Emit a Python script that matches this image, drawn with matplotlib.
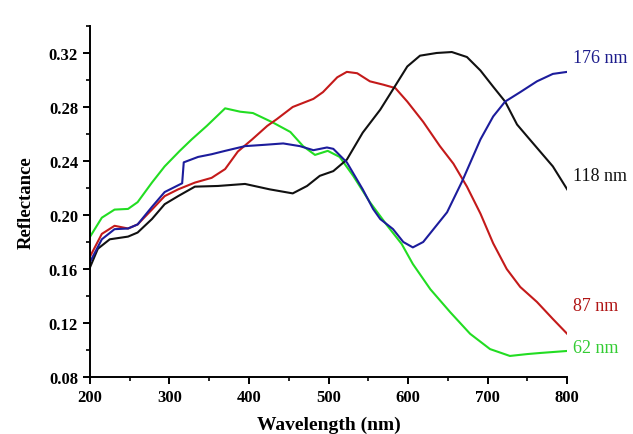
import matplotlib
matplotlib.use('Agg')
import matplotlib.pyplot as plt
from matplotlib.ticker import MultipleLocator

# Reflectance curves
wl_118 = [200, 210, 225, 248, 260, 278, 294, 311, 332, 361, 395, 426, 455, 473, 489, 506, 523,
          543, 565, 581, 599, 615, 636, 655, 674, 691, 707, 722, 737, 750, 766, 782, 800]
refl_118 = [0.161, 0.175, 0.182, 0.184, 0.187, 0.197, 0.208, 0.214, 0.221, 0.2215, 0.223, 0.219,
            0.216, 0.2215, 0.229, 0.2325, 0.241, 0.261, 0.278, 0.293, 0.310, 0.318, 0.320, 0.3207,
            0.317, 0.307, 0.295, 0.284, 0.267, 0.258, 0.247, 0.236, 0.219]

wl_87 = [200, 215, 231, 248, 260, 278, 294, 311, 332, 353, 370, 386, 404, 423, 435, 455, 481, 493,
         511, 523, 536, 552, 569, 584, 599, 619, 640, 657, 674, 691, 707, 724, 741, 762, 782, 800]
refl_87 = [0.169, 0.186, 0.192, 0.190, 0.193, 0.204, 0.214, 0.219, 0.224, 0.2275, 0.234, 0.247,
           0.256, 0.266, 0.271, 0.280, 0.286, 0.291, 0.302, 0.306, 0.305, 0.299, 0.2965, 0.294,
           0.284, 0.269, 0.251, 0.238, 0.221, 0.201, 0.179, 0.160, 0.1467, 0.1356, 0.123, 0.112]

wl_176 = [200, 215, 231, 248, 260, 278, 294, 316, 318, 336, 353, 370, 395, 420, 443, 464, 481, 498,
          506, 523, 543, 556, 565, 581, 594, 606, 619, 649, 668, 691, 707, 722, 741, 762, 782, 800]
refl_176 = [0.165, 0.182, 0.1895, 0.190, 0.193, 0.206, 0.217, 0.2235, 0.239, 0.243, 0.245, 0.2475,
            0.251, 0.252, 0.253, 0.251, 0.248, 0.250, 0.249, 0.239, 0.219, 0.2045, 0.197, 0.1896,
            0.180, 0.176, 0.180, 0.202, 0.225, 0.256, 0.273, 0.284, 0.291, 0.299, 0.3045, 0.306]

wl_62 = [200, 215, 231, 248, 260, 278, 294, 313, 328, 347, 370, 389, 405, 430, 452, 468, 483, 499,
         514, 531, 552, 574, 592, 606, 628, 653, 678, 703, 728, 750, 766, 800]
refl_62 = [0.1837, 0.198, 0.204, 0.2045, 0.2095, 0.224, 0.236, 0.2475, 0.256, 0.266, 0.279, 0.2765,
           0.2755, 0.2685, 0.2615, 0.251, 0.2445, 0.2475, 0.243, 0.229, 0.2095, 0.192, 0.1785,
           0.1637, 0.145, 0.128, 0.112, 0.1007, 0.0956, 0.097, 0.0978, 0.0993]

series = [
    (wl_62, refl_62, '#22dd22', '62 nm', '#33cc33', 0.102),
    (wl_87, refl_87, '#c41a1a', '87 nm', '#b01515', 0.1326),
    (wl_118, refl_118, '#111111', '118 nm', '#111111', 0.229),
    (wl_176, refl_176, '#1c1c9c', '176 nm', '#1c1c8c', 0.317),
]

plt.rcParams['font.family'] = ['Liberation Serif', 'DejaVu Serif']

fig = plt.figure(figsize=(6.33, 4.35), dpi=100)
ax = fig.add_axes([0.142, 0.131, 0.754, 0.807])

for wl, refl, color, label, text_color, label_y in series:
    ax.plot(wl, refl, color=color, lw=1.5)
    ax.text(807, label_y, label, color=text_color, fontsize=13,
            va='center', ha='left', clip_on=False)

ax.set_xlim(200, 800)
ax.set_ylim(0.08, 0.34)
ax.xaxis.set_major_locator(MultipleLocator(100))
ax.xaxis.set_minor_locator(MultipleLocator(50))
ax.yaxis.set_minor_locator(MultipleLocator(0.02))
ax.set_yticks([0.08, 0.12, 0.16, 0.20, 0.24, 0.28, 0.32])
ax.set_yticklabels(['0.08', '0.12', '0.16', '0.20', '0.24', '0.28', '0.32'])

for side in ['top', 'right']:
    ax.spines[side].set_visible(False)
for side in ['left', 'bottom']:
    ax.spines[side].set_linewidth(1.4)

ax.tick_params(which='major', direction='out', length=5, width=1.4, labelsize=12)
ax.tick_params(which='minor', direction='out', length=3, width=1.2)
for lbl in ax.get_xticklabels() + ax.get_yticklabels():
    lbl.set_fontweight('bold')

ax.set_xlabel('Wavelength (nm)', fontsize=14, fontweight='bold', labelpad=8)
ax.set_ylabel('Reflectance', fontsize=13.5, fontweight='bold', labelpad=10)

fig.savefig('out.png', dpi=100)
